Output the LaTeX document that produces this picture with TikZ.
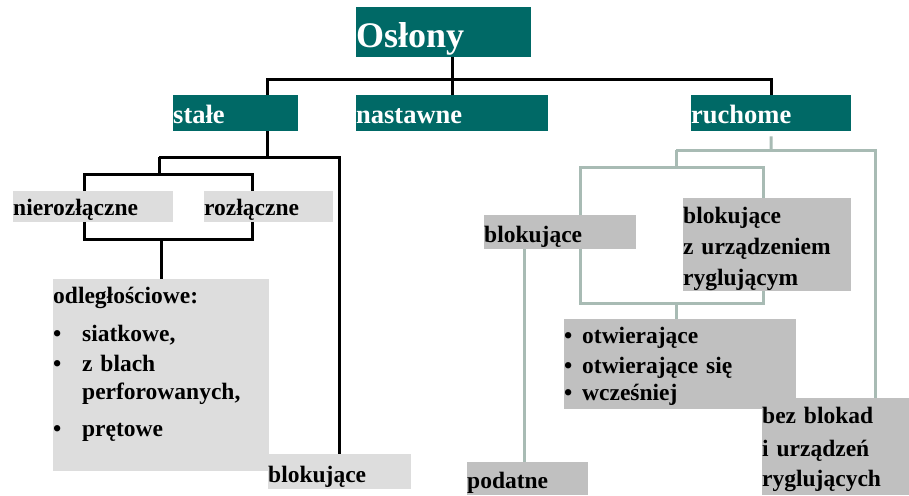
\documentclass[tikz,border=0pt]{standalone}
\usepackage{fontspec}
\setmainfont{Liberation Serif}
\pgfdeclarelayer{bg}
\pgfsetlayers{bg,main}
\definecolor{headc}{RGB}{0,105,102}
\definecolor{lg}{RGB}{221,221,221}
\definecolor{mg}{RGB}{192,192,192}
\definecolor{gline}{RGB}{168,187,180}
\begin{document}
\begin{tikzpicture}[x=1pt,y=-1pt,
  lbl/.style={inner sep=0pt, anchor=north west, align=left, text=black,
    font=\fontsize{23.5}{31}\selectfont\bfseries},
  headbox/.style={lbl, fill=headc, text=white, font=\fontsize{26.5}{31}\selectfont\bfseries},
  lgbox/.style={lbl, fill=lg},
  mgbox/.style={lbl, fill=mg},
  bline/.style={draw=black, line width=3pt},
  gline/.style={draw=gline, line width=3pt}]
\useasboundingbox (0,0) rectangle (909,495);
% top level
\node[headbox, font=\fontsize{36}{40}\selectfont\bfseries, text width=175pt, text height=40pt, text depth=10pt] (oslony) at (356,7) {Osłony};
\node[headbox, text width=125pt, text height=28pt, text depth=8pt] (stale) at (173,95) {stałe};
\node[headbox, text width=192pt, text height=28pt, text depth=8pt] (nastawne) at (356,95) {nastawne};
\node[headbox, text width=160pt, text height=28pt, text depth=8pt] (ruchome) at (691,95) {ruchome};
% left branch
\node[lgbox, text width=160pt, text height=24pt, text depth=7pt] (nier) at (13,191) {nierozłączne};
\node[lgbox, text width=129pt, text height=24pt, text depth=7pt] (roz) at (204,191) {rozłączne};
\node[lgbox, text width=216pt, text height=24pt, text depth=168pt] (odl) at (53,279)
  {odległościowe:\\[7pt]
   \makebox[29pt][l]{\textbullet}siatkowe,\\[-1pt]
   \makebox[29pt][l]{\textbullet}z blach\\[-3pt]
   \hspace*{29pt}perforowanych,\\[6pt]
   \makebox[29pt][l]{\textbullet}prętowe};
\node[lgbox, text width=143pt, text height=28pt, text depth=7pt] (blokL) at (268,454) {blokujące};
% right branch
\node[mgbox, text width=152pt, text height=27pt, text depth=7pt] (blokR) at (484,215) {blokujące};
\node[mgbox, text width=168pt, text height=25pt, text depth=68pt] (blokZ) at (683,198)
  {blokujące\\z urządzeniem\\ryglującym};
\node[mgbox, text width=232pt, text height=24pt, text depth=66pt] (otw) at (564,319)
  {\makebox[18pt][l]{\textbullet}otwierające\\[-1pt]
   \makebox[18pt][l]{\textbullet}otwierające się\\[-4pt]
   \makebox[18pt][l]{\textbullet}wcześniej};
\node[mgbox, text width=147pt, text height=25pt, text depth=72pt] (bez) at (762,398)
  {bez blokad\\[2pt]i urządzeń\\[-1pt]ryglujących};
\node[mgbox, text width=121pt, text height=26pt, text depth=7pt] (podatne) at (467,462) {podatne};
% connector points
\coordinate (b1) at (267,79);
\coordinate (s1) at (267,157);
\coordinate (s2) at (159,157);
\coordinate (r1) at (84,174);
\coordinate (r2) at (252,239);
\coordinate (t1) at (771,150);
\coordinate (t2) at (676,150);
\coordinate (t3) at (875,150);
\coordinate (q1) at (580,167);
\coordinate (q2) at (763,303);
\coordinate (p1) at (524,300);
\begin{pgfonlayer}{bg}
  % black tree
  \draw[bline] (nastawne.north) -- (nastawne.north |- oslony.south);
  \draw[bline] (stale.north -| b1) -- (b1) -| (ruchome.north);
  \draw[bline] (stale.south -| s1) -- (s1);
  \draw[bline] (s2) -| (blokL.north);
  \draw[bline] (s2) -- (s2 |- r1);
  \draw[bline] (r1) rectangle (r2);
  \draw[bline] (odl.north) -- (odl.north |- r2);
  % gray tree
  \draw[gline] ([yshift=-5pt]ruchome.south) -- (t1);
  \draw[gline] (t2) -- (t3) -- (t3 |- bez.north);
  \draw[gline] (t2) -- (t2 |- q1);
  \draw[gline] (q1) rectangle (q2);
  \draw[gline] (t2 |- q2) -- (t2 |- otw.north);
  \draw[gline] (p1 |- blokR.south) -- (p1 |- podatne.north);
\end{pgfonlayer}
\end{tikzpicture}
\end{document}
